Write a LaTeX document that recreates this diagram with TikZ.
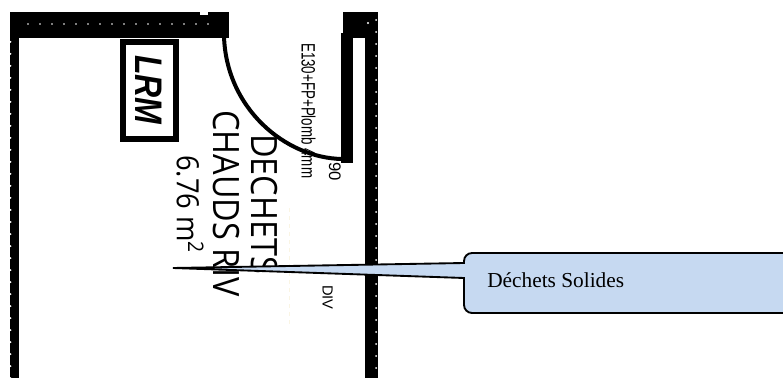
\documentclass[tikz,border=0pt]{standalone}
\usepackage{fontspec}
\setmainfont{Open Sans}
\newfontfamily\serifnote{Liberation Serif}
\newfontfamily\armfont{Liberation Sans}
\definecolor{calloutblue}{RGB}{198,217,241}
\definecolor{faintline}{RGB}{250,245,228}
\tikzset{
  wall/.style={fill=black},
  roomtext/.style={rotate=-90,yscale=1.12,inner sep=0pt,anchor=north west,font=\fontsize{24.3}{24.3}\selectfont},
  smalltext/.style={rotate=-90,inner sep=0pt,anchor=north west,font=\armfont\fontsize{12.5}{12.5}\selectfont}
}
\begin{document}
\begin{tikzpicture}[x=0.75pt,y=-0.75pt]
\useasboundingbox (0,0) rectangle (783,378);
% walls
\fill[wall] (10,12) rectangle (229,38);
\fill[white] (200,12) rectangle (208,15);
\fill[wall] (10,38) rectangle (19,378);
\fill[wall] (343,12) rectangle (378,38);
\fill[wall] (341,33) rectangle (353,163);
\fill[wall] (365,38) rectangle (378,378);
\foreach \x in {28,40,...,216}\fill[white] (\x,24) circle (0.9);
\foreach \y in {42,54,...,378}\fill[white] (10.5,\y) circle (1);
\foreach \y in {20,32,...,378}\fill[white] (376,\y) circle (1);
\fill[white] (368,23) circle (1.2);
% door
\draw[line width=3pt] (224,36) .. controls (226,108) and (285,158) .. (342,159);
% LRM
\draw[line width=4.5pt] (123,42) rectangle (176,139);
\node[rotate=-90,inner sep=0pt] (lrm) at (149,90) {\armfont\bfseries\itshape\fontsize{24}{24}\selectfont\scalebox{1}[1.2]{LRM}};
% texts
\node[roomtext] (dechets) at (278,134) {DECHETS};
\node[roomtext] (chauds) at (240,110) {CHAUDS RIV};
\node[roomtext,font=\fontsize{20.5}{20.5}\selectfont] (surface) at (204,155) {6.76 m\textsuperscript{2}};
\node[smalltext,yscale=1.45,font=\armfont\fontsize{10}{10}\selectfont] (porte) at (316,43) {E130+FP+Plomb 4mm};
\node[smalltext] (largeur) at (341,162) {90};
\node[smalltext,font=\armfont\fontsize{11}{11}\selectfont] (riv) at (333,285) {DIV};
\draw[faintline,dashed] (289,208) -- (289,325);
% callout
\coordinate (tip) at (173,268);
\draw[fill=calloutblue,line width=1.4pt]
  (tip) -- (464,263) -- (464,261) arc (180:270:8) -- (785,253) -- (785,313) -- (472,313)
  arc (90:180:8) -- (464,278) -- cycle;
\node[anchor=west,inner sep=0pt,font=\serifnote\fontsize{16}{16}\selectfont] (solides) at (487,280) {Déchets Solides};
\end{tikzpicture}
\end{document}
